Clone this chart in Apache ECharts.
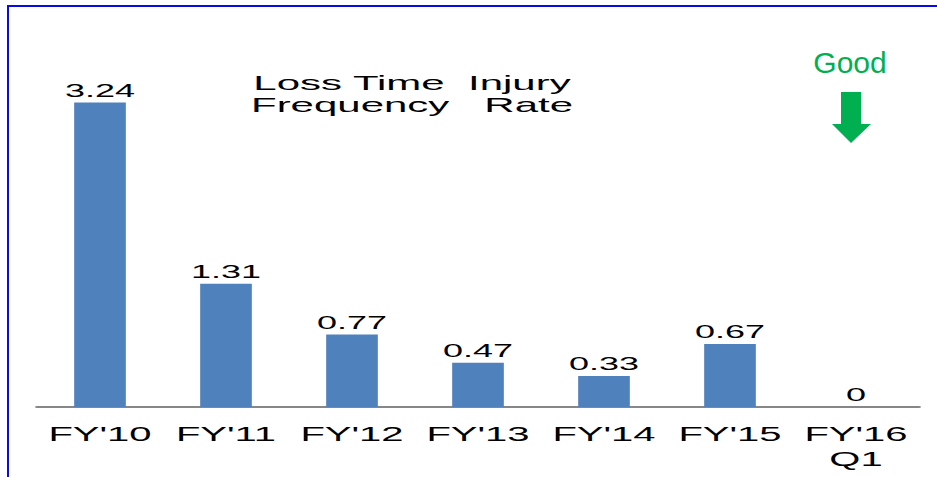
<!DOCTYPE html>
<html>

<head>
    <meta charset="UTF-8">
    <script src="https://cdn.jsdelivr.net/npm/echarts@6.0.0/dist/echarts.min.js"></script>
    <style>
        html, body { margin: 0; padding: 0; background: #fff; overflow: hidden; }
        #frame {
            position: absolute; left: 7px; top: 5px; width: 940px; height: 480px;
            border-left: 2px solid #0a0ae6; border-top: 2px solid #0a0ae6;
        }
        /* the source picture is stretched horizontally, so draw at half width and scale */
        #main {
            position: absolute; left: 0; top: 0; width: 468.5px; height: 477px;
            transform: scaleX(2); transform-origin: 0 0;
        }
    </style>
</head>

<body>
    <div id="frame"></div>
    <div id="main"></div>
    <script>
        const categories = ["FY'10", "FY'11", "FY'12", "FY'13", "FY'14", "FY'15", "FY'16\nQ1"];
        const rates = [3.24, 1.31, 0.77, 0.47, 0.33, 0.67, 0];

        var myChart = echarts.init(document.getElementById('main'), null, { renderer: 'svg' });
        var option = {
            animation: false,
            title: {
                text: 'Loss Time  Injury\nFrequency   Rate',
                left: 201,
                top: 67,
                textAlign: 'center',
                textStyle: {
                    fontFamily: 'Liberation Sans',
                    fontSize: 21,
                    fontWeight: 'normal',
                    lineHeight: 22,
                    color: '#000'
                }
            },
            grid: {
                left: 18.5,
                right: 9.5,
                top: 78,
                bottom: 70
            },
            xAxis: {
                type: 'category',
                data: categories,
                axisLine: { lineStyle: { color: '#878787', width: 2 } },
                axisTick: { length: 7, lineStyle: { color: '#878787', width: 1 } },
                axisLabel: {
                    fontFamily: 'Liberation Sans',
                    fontSize: 20,
                    lineHeight: 25,
                    color: '#000',
                    margin: 15,
                    interval: 0
                }
            },
            yAxis: {
                type: 'value',
                min: 0,
                max: 3.5,
                show: false
            },
            series: [
                {
                    type: 'bar',
                    data: rates,
                    barWidth: '41%',
                    itemStyle: { color: '#4f81bd' },
                    label: {
                        show: true,
                        position: 'top',
                        distance: 3,
                        fontFamily: 'Liberation Sans',
                        fontSize: 18,
                        color: '#000'
                    }
                }
            ],
            graphic: [
                {
                    type: 'text',
                    x: 425,
                    y: 62,
                    scaleX: 0.5,
                    style: {
                        text: 'Good',
                        fontFamily: 'Liberation Sans',
                        fontSize: 30,
                        fill: '#00b050',
                        align: 'center',
                        verticalAlign: 'middle'
                    }
                },
                {
                    type: 'polygon',
                    shape: {
                        points: [[420.5, 92], [430.5, 92], [430.5, 124], [435.5, 124],
                                 [425.5, 143], [416, 124], [420.5, 124]]
                    },
                    style: { fill: '#00b050' }
                }
            ]
        };
        myChart.setOption(option);
    </script>
</body>

</html>
